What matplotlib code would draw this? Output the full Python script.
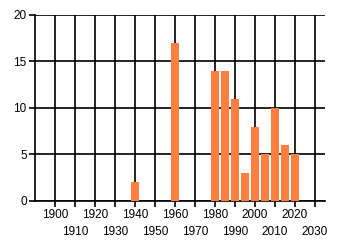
import numpy as np
import matplotlib.pyplot as plt

plt.rcParams['font.family'] = ['Liberation Sans', 'DejaVu Sans']

# ----------- data ---------
years  = [1940, 1960, 1980, 1985, 1990, 1995, 2000, 2005, 2010, 2015, 2020]
counts = [2, 17, 14, 14, 11, 3, 8, 5, 10, 6, 5]
decades = np.arange(1900, 2031, 10)

fig = plt.figure(figsize=(3.4, 2.45), dpi=100)
ax = fig.add_axes([0.103, 0.18, 0.853, 0.759])

ax.bar(years, counts, width=4, color='#FF7F40', zorder=3)

ax.set_xlim(1890, 2035)
ax.set_ylim(0, 20)
ax.set_yticks([0, 5, 10, 15, 20])
ax.set_xticks(decades)
ax.set_xticklabels([str(d) for d in decades])
ax.tick_params(axis='both', labelsize=8.5, colors='black', length=4, width=1.2, pad=2)

# staggered labels like the original: every other one on a lower row
for i, tick in enumerate(ax.xaxis.get_major_ticks()):
    if i % 2 == 1:
        tick.set_pad(14)

ax.grid(True, color='black', linewidth=1.2, zorder=1)
ax.set_axisbelow(True)
for side in ['top', 'right']:
    ax.spines[side].set_visible(False)
ax.spines['left'].set_linewidth(1.2)
ax.spines['bottom'].set_linewidth(1.2)

plt.savefig('out.png', dpi=100)
